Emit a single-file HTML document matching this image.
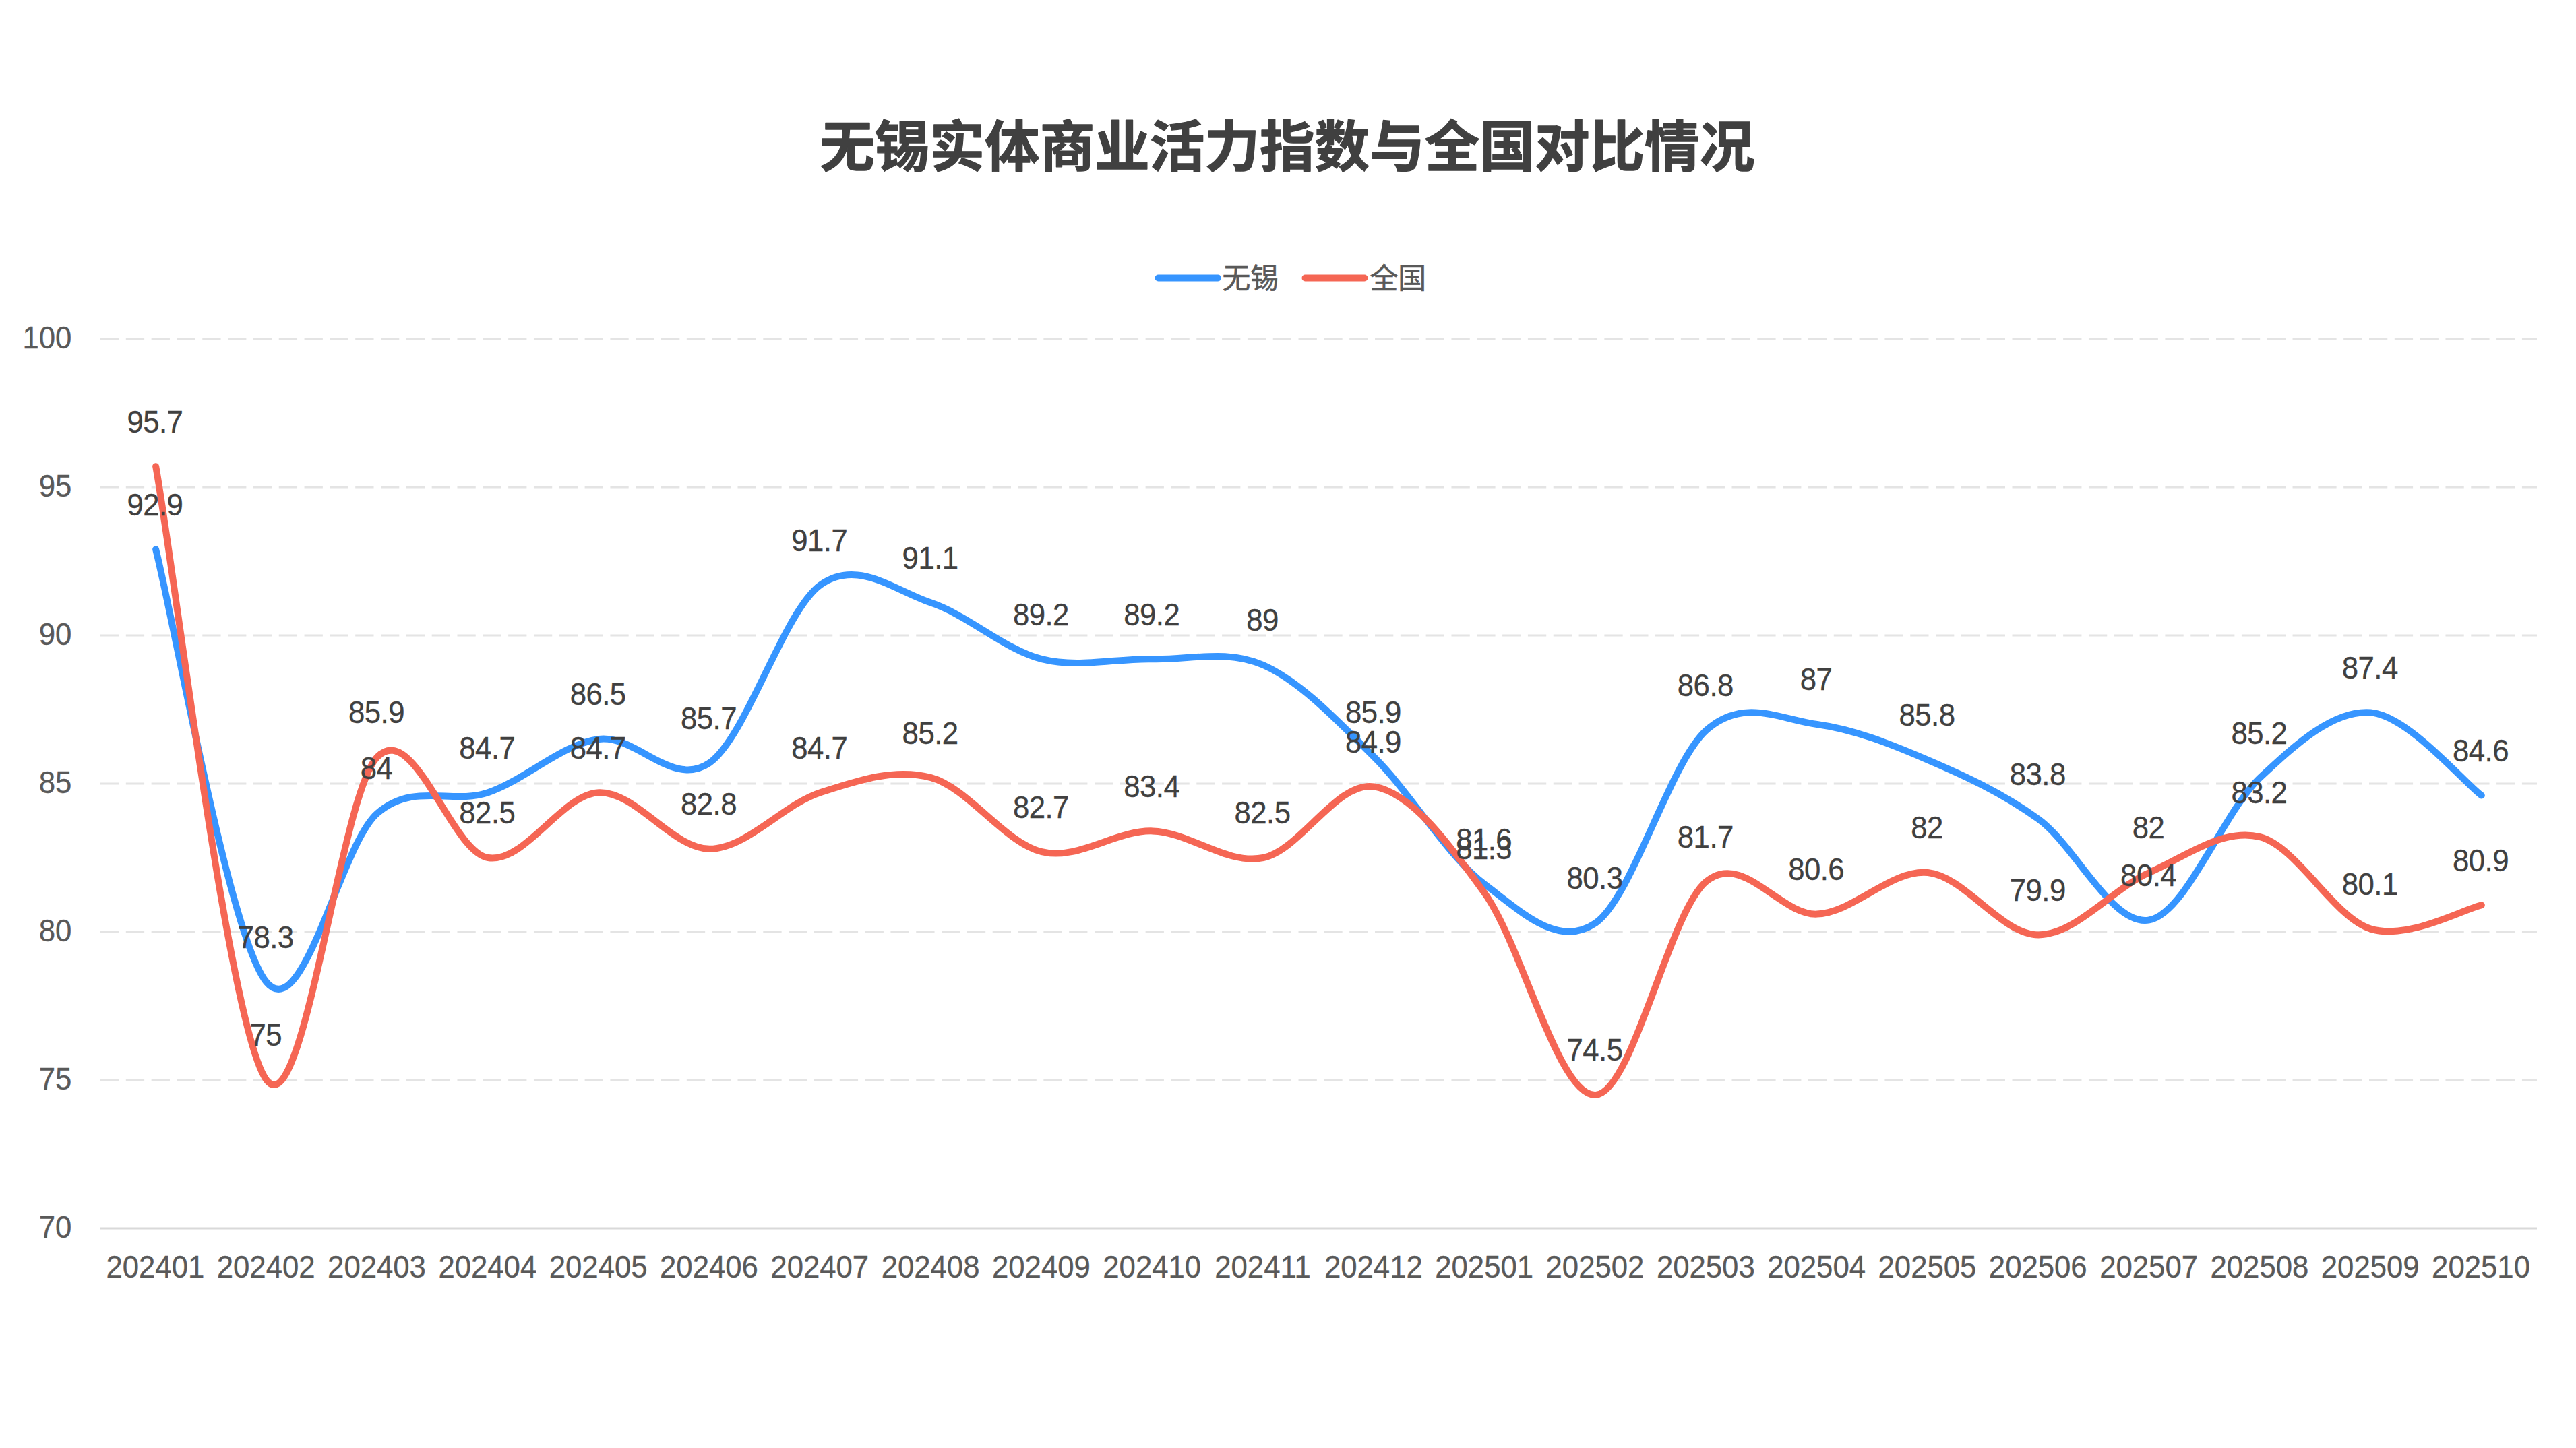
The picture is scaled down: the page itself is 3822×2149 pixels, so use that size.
<!DOCTYPE html>
<html lang="zh-CN"><head><meta charset="utf-8"><title>无锡实体商业活力指数与全国对比情况</title>
<style>html,body{margin:0;padding:0;width:100%;height:100%;background:#fff;overflow:hidden}svg{display:block;width:100vw;height:100vh}text{font-family:'Liberation Sans','Noto Sans CJK SC',sans-serif}</style></head><body>
<svg width="3822" height="2149" viewBox="0 0 3822 2149">
<rect width="3822" height="2149" fill="#fff"/>
<text x="1909.8" y="247.4" text-anchor="middle" font-size="81.6" font-weight="700" fill="#404040" stroke="#404040" stroke-width="1.3" stroke-linejoin="round">无锡实体商业活力指数与全国对比情况</text>
<g stroke-width="10" stroke-linecap="round" fill="none">
<line x1="1718.5" y1="412.5" x2="1807" y2="412.5" stroke="#3695FF"/>
<line x1="1936.5" y1="412.5" x2="2024.5" y2="412.5" stroke="#F56654"/>
</g>
<g font-size="41.8" fill="#595959" stroke="#595959" stroke-width="0.6">
<text x="1813.5" y="428.4">无锡</text>
<text x="2032.5" y="428.4">全国</text>
</g>
<g stroke="#E4E4E4" stroke-width="3" stroke-dasharray="27.3 10.52" fill="none">
<line x1="149.0" y1="503.0" x2="3764.0" y2="503.0"/>
<line x1="149.0" y1="723.0" x2="3764.0" y2="723.0"/>
<line x1="149.0" y1="943.0" x2="3764.0" y2="943.0"/>
<line x1="149.0" y1="1163.0" x2="3764.0" y2="1163.0"/>
<line x1="149.0" y1="1383.0" x2="3764.0" y2="1383.0"/>
<line x1="149.0" y1="1603.0" x2="3764.0" y2="1603.0"/>
</g>
<line x1="149.0" y1="1823.0" x2="3764.0" y2="1823.0" stroke="#D9D9D9" stroke-width="3"/>
<g transform="scale(0.963,1)" font-size="45.4" fill="#595959" stroke="#595959" stroke-width="0.35" text-anchor="end">
<text x="110.49" y="517.2">100</text>
<text x="110.49" y="737.2">95</text>
<text x="110.49" y="957.2">90</text>
<text x="110.49" y="1177.2">85</text>
<text x="110.49" y="1397.2">80</text>
<text x="110.49" y="1617.2">75</text>
<text x="110.49" y="1837.2">70</text>
</g>
<g transform="scale(0.963,1)" font-size="45.4" fill="#595959" stroke="#595959" stroke-width="0.35" text-anchor="middle">
<text x="239.21" y="1896">202401</text>
<text x="409.84" y="1896">202402</text>
<text x="580.47" y="1896">202403</text>
<text x="751.10" y="1896">202404</text>
<text x="921.74" y="1896">202405</text>
<text x="1092.37" y="1896">202406</text>
<text x="1263.00" y="1896">202407</text>
<text x="1433.63" y="1896">202408</text>
<text x="1604.26" y="1896">202409</text>
<text x="1774.89" y="1896">202410</text>
<text x="1945.53" y="1896">202411</text>
<text x="2116.16" y="1896">202412</text>
<text x="2286.79" y="1896">202501</text>
<text x="2457.42" y="1896">202502</text>
<text x="2628.05" y="1896">202503</text>
<text x="2798.68" y="1896">202504</text>
<text x="2969.31" y="1896">202505</text>
<text x="3139.95" y="1896">202506</text>
<text x="3310.58" y="1896">202507</text>
<text x="3481.21" y="1896">202508</text>
<text x="3651.84" y="1896">202509</text>
<text x="3822.47" y="1896">202510</text>
</g>
<g stroke-width="10" stroke-linecap="round" stroke-linejoin="round" fill="none">
<path d="M231.16,815.40 C258.55,922.47 340.70,1392.53 395.48,1457.80 C450.25,1523.07 505.02,1253.93 559.80,1207.00 C614.57,1160.07 669.34,1194.53 724.11,1176.20 C778.89,1157.87 833.66,1104.33 888.43,1097.00 C943.20,1089.67 997.98,1170.33 1052.75,1132.20 C1107.52,1094.07 1162.30,907.80 1217.07,868.20 C1271.84,828.60 1326.61,876.27 1381.39,894.60 C1436.16,912.93 1490.93,964.27 1545.70,978.20 C1600.48,992.13 1655.25,976.73 1710.02,978.20 C1764.80,979.67 1819.57,962.80 1874.34,987.00 C1929.11,1011.20 1983.89,1069.13 2038.66,1123.40 C2093.43,1177.67 2148.20,1271.53 2202.98,1312.60 C2257.75,1353.67 2312.52,1407.93 2367.30,1369.80 C2422.07,1331.67 2476.84,1132.93 2531.61,1083.80 C2586.39,1034.67 2641.16,1067.67 2695.93,1075.00 C2750.70,1082.33 2805.48,1104.33 2860.25,1127.80 C2915.02,1151.27 2969.80,1176.20 3024.57,1215.80 C3079.34,1255.40 3134.11,1375.67 3188.89,1365.40 C3243.66,1355.13 3298.43,1205.53 3353.20,1154.20 C3407.98,1102.87 3462.75,1053.00 3517.52,1057.40 C3572.30,1061.80 3654.45,1160.07 3681.84,1180.60" stroke="#3695FF"/>
<path d="M231.16,692.20 C258.55,844.00 340.70,1531.13 395.48,1603.00 C450.25,1674.87 505.02,1178.40 559.80,1123.40 C614.57,1068.40 669.34,1264.20 724.11,1273.00 C778.89,1281.80 833.66,1178.40 888.43,1176.20 C943.20,1174.00 997.98,1259.80 1052.75,1259.80 C1107.52,1259.80 1162.30,1193.80 1217.07,1176.20 C1271.84,1158.60 1326.61,1139.53 1381.39,1154.20 C1436.16,1168.87 1490.93,1251.00 1545.70,1264.20 C1600.48,1277.40 1655.25,1231.93 1710.02,1233.40 C1764.80,1234.87 1819.57,1284.00 1874.34,1273.00 C1929.11,1262.00 1983.89,1158.60 2038.66,1167.40 C2093.43,1176.20 2148.20,1249.53 2202.98,1325.80 C2257.75,1402.07 2312.52,1627.93 2367.30,1625.00 C2422.07,1622.07 2476.84,1352.93 2531.61,1308.20 C2586.39,1263.47 2641.16,1358.80 2695.93,1356.60 C2750.70,1354.40 2805.48,1289.87 2860.25,1295.00 C2915.02,1300.13 2969.80,1387.40 3024.57,1387.40 C3079.34,1387.40 3134.11,1319.20 3188.89,1295.00 C3243.66,1270.80 3298.43,1228.27 3353.20,1242.20 C3407.98,1256.13 3462.75,1361.73 3517.52,1378.60 C3572.30,1395.47 3654.45,1349.27 3681.84,1343.40" stroke="#F56654"/>
</g>
<g transform="scale(0.963,1)" font-size="45.4" fill="#404040" stroke="#404040" stroke-width="0.35" letter-spacing="-0.55" text-anchor="middle">
<text x="238.69" y="764.9">92.9</text>
<text x="409.32" y="1407.3">78.3</text>
<text x="579.95" y="1156.5">84</text>
<text x="750.59" y="1125.7">84.7</text>
<text x="921.22" y="1046.5">86.5</text>
<text x="1091.85" y="1081.7">85.7</text>
<text x="1262.48" y="817.7">91.7</text>
<text x="1433.11" y="844.1">91.1</text>
<text x="1603.74" y="927.7">89.2</text>
<text x="1774.37" y="927.7">89.2</text>
<text x="1945.01" y="936.5">89</text>
<text x="2115.64" y="1072.9">85.9</text>
<text x="2286.27" y="1262.1">81.6</text>
<text x="2456.90" y="1319.3">80.3</text>
<text x="2627.53" y="1033.3">86.8</text>
<text x="2798.16" y="1024.5">87</text>
<text x="2968.80" y="1077.3">85.8</text>
<text x="3139.43" y="1165.3">83.8</text>
<text x="3310.06" y="1314.9">80.4</text>
<text x="3480.69" y="1103.7">85.2</text>
<text x="3651.32" y="1006.9">87.4</text>
<text x="3821.95" y="1130.1">84.6</text>
<text x="238.69" y="641.7">95.7</text>
<text x="409.32" y="1552.5">75</text>
<text x="579.95" y="1072.9">85.9</text>
<text x="750.59" y="1222.5">82.5</text>
<text x="921.22" y="1125.7">84.7</text>
<text x="1091.85" y="1209.3">82.8</text>
<text x="1262.48" y="1125.7">84.7</text>
<text x="1433.11" y="1103.7">85.2</text>
<text x="1603.74" y="1213.7">82.7</text>
<text x="1774.37" y="1182.9">83.4</text>
<text x="1945.01" y="1222.5">82.5</text>
<text x="2115.64" y="1116.9">84.9</text>
<text x="2286.27" y="1275.3">81.3</text>
<text x="2456.90" y="1574.5">74.5</text>
<text x="2627.53" y="1257.7">81.7</text>
<text x="2798.16" y="1306.1">80.6</text>
<text x="2968.80" y="1244.5">82</text>
<text x="3139.43" y="1336.9">79.9</text>
<text x="3310.06" y="1244.5">82</text>
<text x="3480.69" y="1191.7">83.2</text>
<text x="3651.32" y="1328.1">80.1</text>
<text x="3821.95" y="1292.9">80.9</text>
</g>
</svg></body></html>
